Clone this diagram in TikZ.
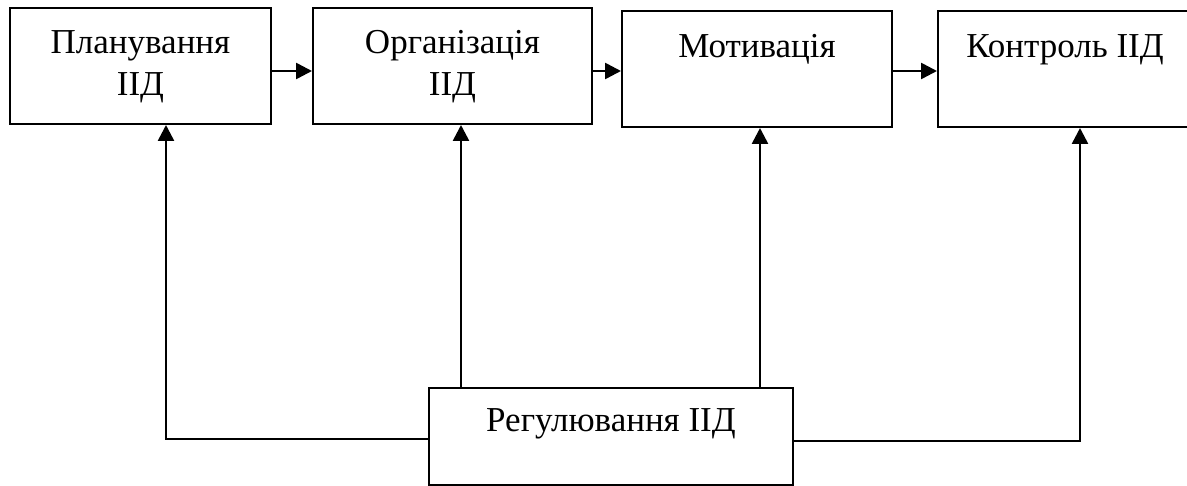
\documentclass[tikz,border=0pt]{standalone}
\usepackage{fontspec}
\setmainfont{Liberation Serif}
\usetikzlibrary{arrows.meta,positioning}
\tikzset{
  blk/.style={draw, line width=2pt, minimum width=#1, inner sep=0pt},
  txt/.style={inner sep=0pt, align=center},
  arr/.style={-{Triangle[length=16pt,width=16pt]}, line width=2.6pt}
}
\begin{document}
\begin{tikzpicture}[x=1pt, y=-1pt, font=\fontsize{35}{42}\selectfont, line join=miter]
\useasboundingbox (0,0) rectangle (1187,486);
\clip (0,0) rectangle (1187,486);
%boxes of the top row
\node[blk=261pt, minimum height=116pt] (plan) at (140.5,66) {};
\node[blk=279pt, minimum height=116pt] (org)  at (452.5,66) {};
\node[blk=270pt, minimum height=116pt] (mot)  at (757,69) {};
\node[blk=254pt, minimum height=116pt] (ctrl) at (1065,69) {};
\node[blk=364pt, minimum height=97pt]  (reg)  at (611,436.5) {};
%texts
\node[txt, below=23pt of plan.north] (tplan) {Планування\\ІІД};
\node[txt, below=23pt of org.north]  (torg)  {Організація\\ІІД};
\node[txt, below=24pt of mot.north]  (tmot)  {Мотивація};
\node[txt, below=24pt of ctrl.north] (tctrl) {Контроль ІІД};
\node[txt, below=21pt of reg.north]  (treg)  {Регулювання ІІД};
%arrows along the row
\coordinate (axis) at (0,71);
\draw[arr] (plan.east |- axis) -- (org.west |- axis);
\draw[arr] (org.east |- axis) -- (mot.west |- axis);
\draw[arr] (mot.east |- axis) -- (ctrl.west |- axis);
%arrows from the bottom box
\draw[arr] ([yshift=-2.5pt]reg.west) -| ([xshift=25.5pt]plan.south);
\draw[arr] ([yshift=-4.5pt]reg.east) -| ([xshift=15pt]ctrl.south);
\draw[arr] ([xshift=8.5pt]org.south |- reg.north) -- ([xshift=8.5pt]org.south);
\draw[arr] ([xshift=3pt]mot.south |- reg.north) -- ([xshift=3pt]mot.south);
\end{tikzpicture}
\end{document}
